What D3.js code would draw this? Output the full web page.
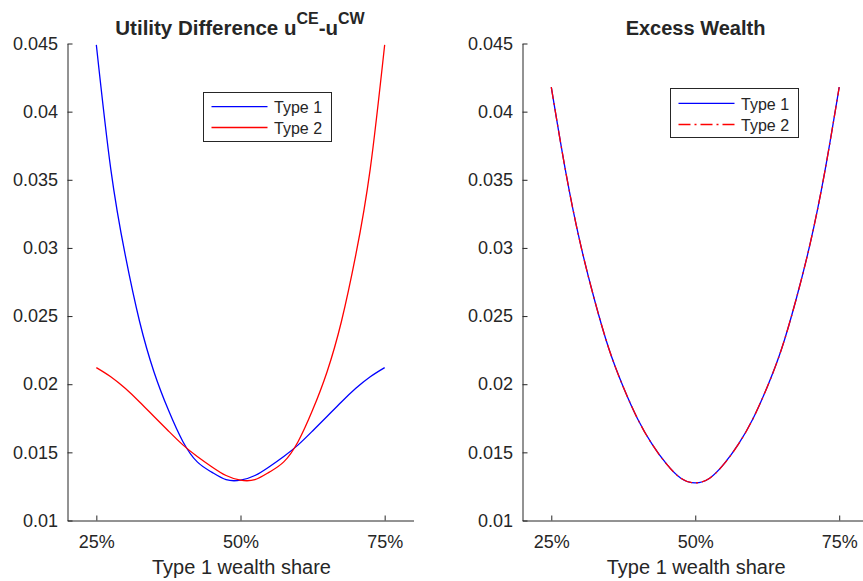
<!DOCTYPE html>
<html>
<head>
<meta charset="utf-8">
<script src="https://cdn.jsdelivr.net/npm/d3@7"></script>
<style>
  body { margin: 0; background: #fff; }
  text { font-family: "Liberation Sans", Arial, Helvetica, sans-serif; fill: #262626; }
</style>
</head>
<body>
<div id="chart"></div>
<script>
// type 1 wealth share (x values)
var shares = [0.25, 0.275, 0.30, 0.325, 0.35, 0.375, 0.40, 0.425, 0.45, 0.475, 0.50,
              0.525, 0.55, 0.575, 0.60, 0.625, 0.65, 0.675, 0.70, 0.725, 0.75];

// utility difference u^CE - u^CW
var utilType1 = [0.0449, 0.0358, 0.0295, 0.0246, 0.0209, 0.0181, 0.0158, 0.0143, 0.01355, 0.0130, 0.01296,
                 0.0133, 0.01395, 0.0147, 0.01555, 0.01657, 0.01763, 0.0187, 0.0197, 0.02055, 0.02122];
var utilType2 = [0.02122, 0.02055, 0.0197, 0.0187, 0.01763, 0.01657, 0.01555, 0.0147, 0.01395, 0.0133, 0.01296,
                 0.0130, 0.01355, 0.0143, 0.0158, 0.0181, 0.0209, 0.0246, 0.0295, 0.0358, 0.0449];

// excess wealth
var wealthType1 = [0.0418, 0.0356, 0.0304, 0.0262, 0.0226, 0.0198, 0.01745, 0.0156, 0.01415, 0.0131, 0.01276,
                   0.0131, 0.01415, 0.0156, 0.01745, 0.0198, 0.0226, 0.0262, 0.0304, 0.0356, 0.0418];
var wealthType2 = [0.0418, 0.0356, 0.0304, 0.0262, 0.0226, 0.0198, 0.01745, 0.0156, 0.01415, 0.0131, 0.01276,
                   0.0131, 0.01415, 0.0156, 0.01745, 0.0198, 0.0226, 0.0262, 0.0304, 0.0356, 0.0418];

var xTicks = [0.25, 0.5, 0.75];
var xTickLabels = ["25%", "50%", "75%"];
var yTicks = [0.01, 0.015, 0.02, 0.025, 0.03, 0.035, 0.04, 0.045];
var yTickLabels = ["0.01", "0.015", "0.02", "0.025", "0.03", "0.035", "0.04", "0.045"];
var seriesNames = ["Type 1", "Type 2"];

var width = 863, height = 581;

var svg = d3.select("#chart")
  .append("svg")
  .attr("width", width)
  .attr("height", height);

var axisColor = "#262626";

function drawPanel(left, right, s1, s2, dash2, legendBox) {
  var x = d3.scaleLinear().domain([0.2, 0.8]).range([left, right]);
  var y = d3.scaleLinear().domain([0.01, 0.045]).range([520.5, 43.5]);

  var xAxis = svg.append("g")
    .attr("transform", "translate(0,520.5)")
    .call(d3.axisBottom(x).tickValues(xTicks)
      .tickFormat(function (d, i) { return xTickLabels[i]; })
      .tickSizeInner(-5).tickSizeOuter(0).tickPadding(14.5));

  var yAxis = svg.append("g")
    .attr("transform", "translate(" + left + ",0)")
    .call(d3.axisLeft(y).tickValues(yTicks)
      .tickFormat(function (d, i) { return yTickLabels[i]; })
      .tickSizeInner(-5).tickSizeOuter(0).tickPadding(9.5));

  [xAxis, yAxis].forEach(function (a) {
    a.attr("font-size", null).attr("font-family", null);
    a.selectAll("path, line").attr("stroke", axisColor);
    a.selectAll("text").style("font-size", "18px").attr("fill", axisColor);
  });

  var line = d3.line()
    .x(function (d, i) { return x(shares[i]); })
    .y(function (d) { return y(d); })
    .curve(d3.curveNatural);

  svg.append("path").datum(s1)
    .attr("fill", "none").attr("stroke", "#0000ff").attr("stroke-width", 1.3)
    .attr("d", line);

  svg.append("path").datum(s2)
    .attr("fill", "none").attr("stroke", "#ff0000").attr("stroke-width", 1.3)
    .attr("stroke-dasharray", dash2)
    .attr("d", line);

  svg.append("text")
    .attr("x", (x(0.2) + x(0.8)) / 2 + 1)
    .attr("y", 574)
    .attr("text-anchor", "middle")
    .style("font-size", "20px")
    .text("Type 1 wealth share");

  // legend
  var lg = svg.append("g");
  lg.append("rect")
    .attr("x", legendBox.x).attr("y", legendBox.y)
    .attr("width", 128).attr("height", legendBox.h)
    .attr("fill", "#fff").attr("stroke", axisColor).attr("stroke-width", 1);
  [0, 1].forEach(function (i) {
    var ly = legendBox.y + legendBox.rows[i];
    lg.append("line")
      .attr("x1", legendBox.x + 8).attr("x2", legendBox.x + 64)
      .attr("y1", ly).attr("y2", ly)
      .attr("stroke", i == 0 ? "#0000ff" : "#ff0000")
      .attr("stroke-width", 1.3)
      .attr("stroke-dasharray", i == 0 ? null : dash2);
    lg.append("text")
      .attr("x", legendBox.x + 70.5)
      .attr("y", ly + 6.3)
      .style("font-size", "16px")
      .text(seriesNames[i]);
  });
}

drawPanel(67.5, 413.5, utilType1, utilType2, null,
  { x: 203.5, y: 92.5, h: 49, rows: [14.2, 35] });
drawPanel(522.5, 868, wealthType1, wealthType2, "12,4,2,4",
  { x: 670.5, y: 88.5, h: 49, rows: [14.8, 36] });

// titles
var t1 = svg.append("text")
  .attr("x", 240).attr("y", 35)
  .attr("text-anchor", "middle")
  .style("font-size", "20.5px").style("font-weight", "bold");
t1.append("tspan").text("Utility Difference u");
t1.append("tspan").attr("dy", -11.5).style("font-size", "16px").text("CE");
t1.append("tspan").attr("dy", 11.5).text("-u");
t1.append("tspan").attr("dy", -11.5).style("font-size", "16px").text("CW");

svg.append("text")
  .attr("x", 695.5).attr("y", 35)
  .attr("text-anchor", "middle")
  .style("font-size", "20px").style("font-weight", "bold")
  .text("Excess Wealth");
</script>
</body>
</html>
